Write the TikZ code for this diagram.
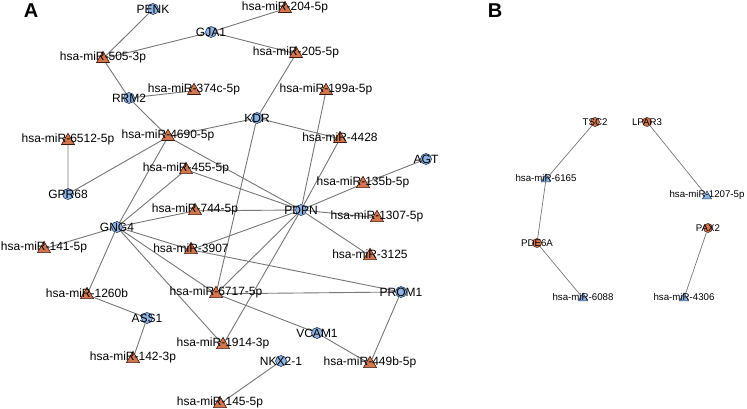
\documentclass[tikz,border=0pt]{standalone}
\usepackage{fontspec}
\setmainfont{Liberation Sans}
\usetikzlibrary{shapes.geometric,backgrounds}
\definecolor{gfill}{RGB}{141,180,226}
\definecolor{gline}{RGB}{35,60,100}
\definecolor{mfill}{RGB}{212,118,78}
\definecolor{mline}{RGB}{60,25,15}
\definecolor{edgecol}{RGB}{118,118,118}
\tikzset{
  geneA/.style={circle,draw=gline,fill=gfill,minimum size=11pt,inner sep=0pt,line width=0.6pt},
  mirA/.style={regular polygon,regular polygon sides=3,draw=mline,fill=mfill,minimum size=15pt,inner sep=0pt,line width=0.6pt,yshift=-1.8pt},
  geneB/.style={circle,draw=mline,fill=mfill,minimum size=9pt,inner sep=0pt,line width=0.5pt},
  mirB/.style={regular polygon,regular polygon sides=3,draw=gline,fill=gfill,minimum size=10.5pt,inner sep=0pt,line width=0.5pt,yshift=-1.2pt},
  labA/.style={font=\fontsize{12}{12}\selectfont,inner sep=0pt,text=black},
  labB/.style={font=\fontsize{9.7}{9.7}\selectfont,inner sep=0pt,text=black},
  linkA/.style={draw=edgecol,line width=0.9pt},
  linkB/.style={draw=edgecol,line width=0.7pt},
  panel/.style={font=\fontsize{20}{20}\selectfont\bfseries,inner sep=0pt}
}
\newcommand\gA[4]{\node[geneA] (#1) at (#2,#3) {}; \node[labA] (#1-l) at (#2,#3) {#4};}
\newcommand\mA[4]{\node[mirA] (#1) at (#2,#3) {}; \node[labA] (#1-l) at (#2,#3) {#4};}
\newcommand\gB[4]{\node[geneB] (#1) at (#2,#3) {}; \node[labB] (#1-l) at (#2,#3) {#4};}
\newcommand\mB[4]{\node[mirB] (#1) at (#2,#3) {}; \node[labB] (#1-l) at (#2,#3) {#4};}
\begin{document}
\begin{tikzpicture}[x=1pt,y=-1pt]
\useasboundingbox (0,0) rectangle (747,409);
\node[panel] (pA) at (31,11) {A};
\node[panel] (pB) at (495,11) {B};
% panel A nodes
\gA{PENK}{153}{9}{PENK}
\gA{GJA1}{211}{32}{GJA1}
\mA{m204}{285}{7}{hsa-miR-204-5p}
\mA{m205}{296}{52}{hsa-miR-205-5p}
\mA{m505}{103}{57}{hsa-miR-505-3p}
\gA{RRM2}{129}{98}{RRM2}
\mA{m374c}{194}{89}{hsa-miR-374c-5p}
\mA{m199a}{326}{89}{hsa-miR-199a-5p}
\gA{KDR}{257}{118}{KDR}
\mA{m4690}{168}{135}{hsa-miR-4690-5p}
\mA{m6512}{68}{139}{hsa-miR-6512-5p}
\mA{m4428}{340}{137}{hsa-miR-4428}
\gA{AGT}{426}{159}{AGT}
\mA{m455}{186}{168}{hsa-miR-455-5p}
\mA{m135b}{363}{182}{hsa-miR-135b-5p}
\gA{GPR68}{68}{194}{GPR68}
\mA{m744}{195}{209}{hsa-miR-744-5p}
\gA{PDPN}{301}{210}{PDPN}
\mA{m1307}{377}{216}{hsa-miR-1307-5p}
\gA{GNG4}{117}{227}{GNG4}
\mA{m141}{44}{247}{hsa-miR-141-5p}
\mA{m3907}{191}{248}{hsa-miR-3907}
\mA{m3125}{370}{254}{hsa-miR-3125}
\mA{m1260b}{87}{293}{hsa-miR-1260b}
\mA{m6717}{216}{292}{hsa-miR-6717-5p}
\gA{PROM1}{401}{292}{PROM1}
\gA{ASS1}{147}{318}{ASS1}
\gA{VCAM1}{317}{333}{VCAM1}
\mA{m1914}{223}{343}{hsa-miR-1914-3p}
\mA{m142}{133}{357}{hsa-miR-142-3p}
\gA{NKX}{281}{361}{NKX2-1}
\mA{m449b}{370}{362}{hsa-miR-449b-5p}
\mA{m145}{220}{402}{hsa-miR-145-5p}
% panel B nodes
\gB{TSC2}{595}{122}{TSC2}
\gB{LPAR3}{647}{122}{LPAR3}
\mB{m6165}{546}{178}{hsa-miR-6165}
\mB{m1207}{707}{195}{hsa-miR-1207-5p}
\gB{PDE6A}{537}{243}{PDE6A}
\gB{PAX2}{708}{228}{PAX2}
\mB{m6088}{583}{297}{hsa-miR-6088}
\mB{m4306}{684}{297}{hsa-miR-4306}
\begin{scope}[on background layer]
\path[linkA]
  (PENK)--(m505) (GJA1)--(m505) (GJA1)--(m204) (GJA1)--(m205)
  (m505)--(RRM2) (RRM2)--(m374c) (RRM2)--(m4690)
  (m205)--(KDR) (KDR)--(m4690) (KDR)--(m4428) (KDR)--(m6717)
  (m199a)--(PDPN) (m4428)--(PDPN)
  (m6512)--(GPR68) (GPR68)--(m4690) (m4690)--(GNG4) (m4690)--(PDPN)
  (m455)--(GNG4) (m455)--(PDPN) (m744)--(GNG4) (m744)--(PDPN)
  (GNG4)--(m141) (GNG4)--(m3907) (GNG4)--(m6717) (GNG4)--(m1914) (GNG4)--(m1260b)
  (m3907)--(PDPN) (m3907)--(PROM1)
  (PDPN)--(m6717) (PDPN)--(m1914) (PDPN)--(m135b) (m135b)--(AGT)
  (PDPN)--(m1307) (PDPN)--(m3125)
  (m6717)--(PROM1) (m6717)--(VCAM1) (PROM1)--(m449b) (VCAM1)--(m449b)
  (m1260b)--(ASS1) (ASS1)--(m142) (NKX)--(m145);
\path[linkB]
  (TSC2)--(m6165) (m6165)--(PDE6A) (PDE6A)--(m6088)
  (LPAR3)--(m1207) (PAX2)--(m4306);
\end{scope}
\end{tikzpicture}
\end{document}
